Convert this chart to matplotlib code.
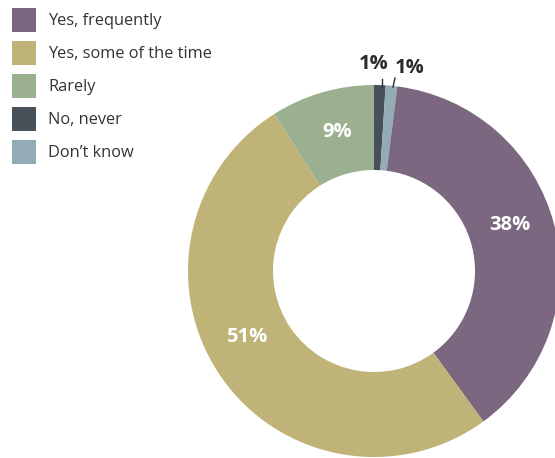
import matplotlib.pyplot as plt
from matplotlib.patches import Rectangle
import numpy as np

labels = ["Yes, frequently", "Yes, some of the time", "Rarely", "No, never", "Don't know"]
legend_text = ["Yes, frequently", "Yes, some of the time", "Rarely", "No, never", "Don\u2019t know"]
values = [38, 51, 9, 1, 1]
colors = ["#7b677f", "#c0b378", "#9bb08f", "#475058", "#93abb4"]

# drawing order around the ring, clockwise from 12 o'clock
order = [3, 4, 0, 1, 2]

W, H = 555, 458
fig = plt.figure(figsize=(W / 100, H / 100), dpi=100)
ax = fig.add_axes([0, 0, 1, 1])

cx, cy = 374, H - 271
R = 186
ring = 85

wedges, _ = ax.pie([values[i] for i in order], colors=[colors[i] for i in order],
                   startangle=90, counterclock=False, center=(cx, cy), radius=R,
                   wedgeprops=dict(width=ring, edgecolor="none"), frame=True)
ax.set_xlim(0, W)
ax.set_ylim(0, H)
ax.set_aspect("equal")
ax.axis("off")

font = "Open Sans"
mid_r = R - ring / 2
# white labels inside the big slices
nudge = {0: 4.3, 1: -6.7, 2: -1.2}
for w, i in zip(wedges, order):
    if values[i] < 5:
        continue
    ang = np.deg2rad((w.theta1 + w.theta2) / 2 + nudge.get(i, 0))
    ax.text(cx + mid_r * np.cos(ang), cy + mid_r * np.sin(ang), f"{values[i]}%",
            color="white", fontsize=14.5, fontweight="bold", family=font,
            ha="center", va="center")

# small slices get labels above the ring with short leader lines
small = [(i, w) for w, i in zip(wedges, order) if values[i] < 5]
lines = [((382, 87), (382, 79)), ((393, 87), (395, 78))]
spots = [(374, H - 64), (410, H - 68)]
for (i, w), (p0, p1), (tx, ty) in zip(small, lines, spots):
    ax.plot([p0[0], p1[0]], [H - p0[1], H - p1[1]], color="#2b2b2b", lw=1)
    ax.text(tx, ty, f"{values[i]}%", color="#2b2b2b", fontsize=14.5,
            fontweight="bold", family=font, ha="center", va="center")

# legend
for k, (txt, c) in enumerate(zip(legend_text, colors)):
    y = 8 + 33 * k
    ax.add_patch(Rectangle((12, H - y - 24), 24, 24, color=c, lw=0))
    ax.text(48, H - y - 13, txt, color="#333333", fontsize=11.8, family=font,
            ha="left", va="center")

fig.savefig("out.png", dpi=100)
